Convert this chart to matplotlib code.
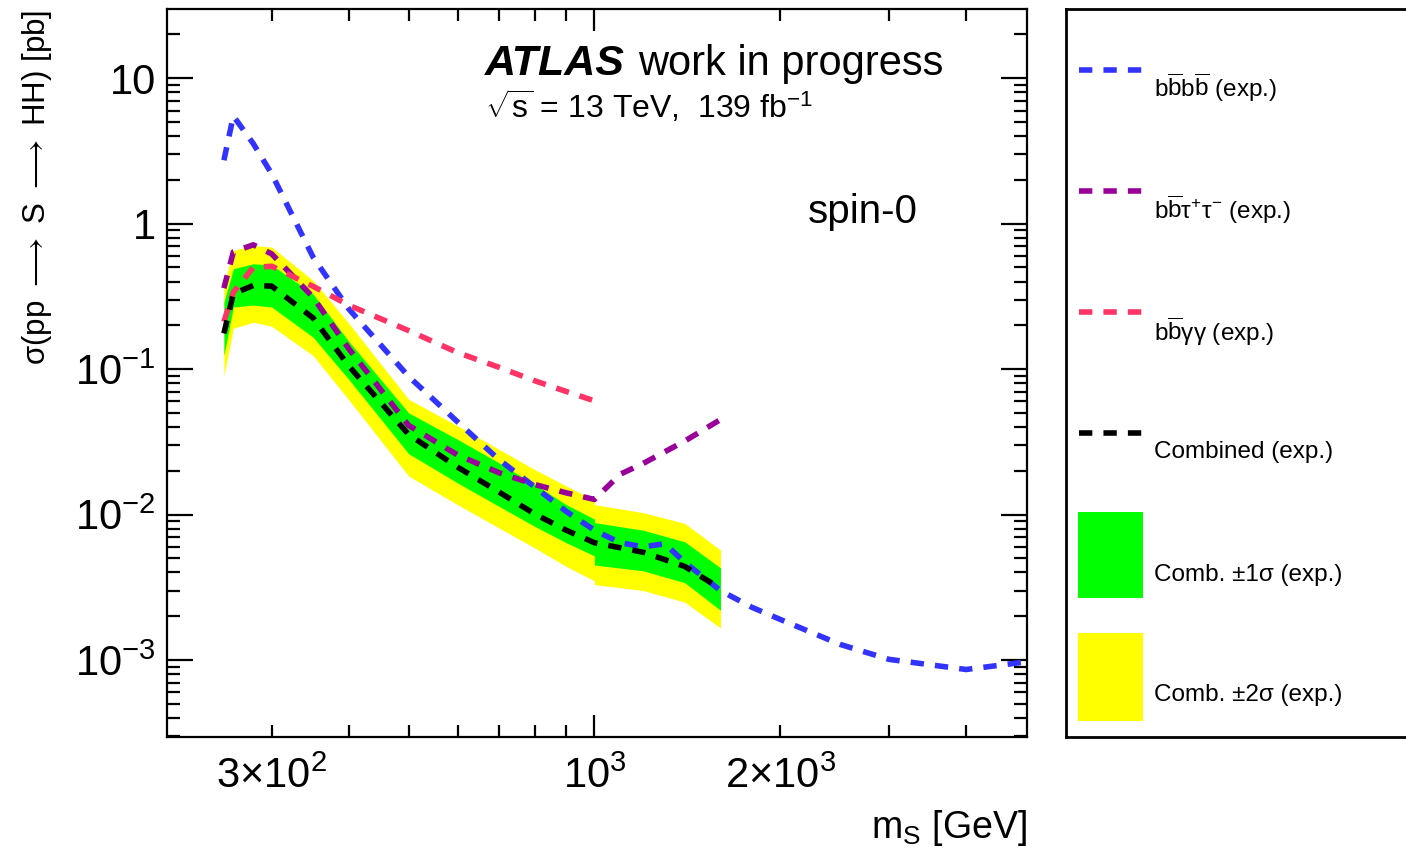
import matplotlib
matplotlib.use('Agg')
import matplotlib.pyplot as plt
from matplotlib.patches import Rectangle
from matplotlib.ticker import NullFormatter

# expected limits, spin-0 resonance, sigma(pp -> S -> HH) [pb]
m_band = [251, 260, 280, 300, 350, 400, 500, 600, 700, 800, 900, 1000, 1000, 1200, 1400, 1600]
comb_exp = [0.176, 0.33, 0.376, 0.372, 0.225, 0.105, 0.0355, 0.0212, 0.0143, 0.0101, 0.0078,
            0.0064, 0.0064, 0.0055, 0.0044, 0.0031]
comb_p1 = [0.288, 0.49, 0.53, 0.52, 0.329, 0.155, 0.050, 0.0329, 0.0227, 0.0161, 0.0117,
           0.0093, 0.0088, 0.0078, 0.0065, 0.0043]
comb_m1 = [0.124, 0.267, 0.276, 0.267, 0.166, 0.085, 0.0262, 0.0165, 0.0114, 0.0083, 0.0064,
           0.0052, 0.0045, 0.0041, 0.0034, 0.0022]
comb_p2 = [0.385, 0.655, 0.708, 0.69, 0.407, 0.206, 0.062, 0.0407, 0.0281, 0.0204, 0.0157,
           0.0126, 0.0117, 0.0103, 0.0087, 0.0057]
comb_m2 = [0.090, 0.191, 0.21, 0.197, 0.124, 0.0615, 0.0184, 0.0117, 0.0081, 0.0059, 0.0044,
           0.0035, 0.0033, 0.0030, 0.0025, 0.00166]

m_4b = [251, 260, 280, 300, 350, 400, 500, 600, 700, 800, 900, 1000, 1100, 1200, 1300, 1400,
        1600, 1800, 2000, 2500, 3000, 4000, 5000]
xs_4b = [2.73, 5.5, 3.56, 2.2, 0.59, 0.259, 0.089, 0.0434, 0.0239, 0.0155, 0.0105, 0.0078,
         0.0064, 0.0060, 0.0063, 0.0047, 0.0030, 0.0023, 0.0019, 0.00128, 0.00101, 0.00086, 0.00097]

m_tt = [251, 260, 280, 300, 350, 400, 500, 600, 700, 800, 900, 1000, 1100, 1200, 1400, 1600]
xs_tt = [0.36, 0.64, 0.716, 0.62, 0.312, 0.138, 0.041, 0.0257, 0.0194, 0.0161, 0.0141, 0.0127,
         0.0189, 0.0225, 0.032, 0.045]

m_yy = [251, 260, 280, 300, 350, 400, 500, 600, 700, 800, 900, 1000]
xs_yy = [0.212, 0.338, 0.50, 0.51, 0.371, 0.275, 0.184, 0.130, 0.103, 0.0832, 0.0702, 0.0605]

x_minor = [300, 400, 500, 600, 700, 800, 900, 2000, 3000, 4000]
x_minor_labels = [r'$3{\times}10^{2}$', '', '', '', '', '', '', r'$2{\times}10^{3}$', '', '']
y_major = [1e-3, 1e-2, 1e-1, 1, 10]
y_major_labels = [r'$10^{-3}$', r'$10^{-2}$', r'$10^{-1}$', '1', '10']

plt.rcParams['font.family'] = ['Liberation Sans', 'DejaVu Sans']
plt.rcParams['mathtext.fontset'] = 'custom'
plt.rcParams['mathtext.rm'] = 'Liberation Sans'
plt.rcParams['mathtext.it'] = 'Liberation Sans:italic'
plt.rcParams['mathtext.bf'] = 'Liberation Sans:bold'
plt.rcParams['mathtext.sf'] = 'Liberation Sans'

fig = plt.figure(figsize=(14.06, 8.49), dpi=100)
ax = fig.add_axes([167 / 1406, 1 - 737.3 / 849, 860 / 1406, 728 / 849])

c_blue, c_purple, c_pink = '#3333ff', '#990099', '#ff3366'
dash = (2.4, 2.0)
lw = 4

ax.fill_between(m_band, comb_m2, comb_p2, color='#ffff00', lw=0)
ax.fill_between(m_band, comb_m1, comb_p1, color='#00ff00', lw=0)
ax.plot(m_4b, xs_4b, color=c_blue, lw=lw, dashes=dash)
ax.plot(m_tt, xs_tt, color=c_purple, lw=lw, dashes=dash)
ax.plot(m_yy, xs_yy, color=c_pink, lw=lw, dashes=dash)
ax.plot(m_band, comb_exp, color='black', lw=lw, dashes=dash)

ax.set_xscale('log')
ax.set_yscale('log')
ax.set_xlim(203, 5020)
ax.set_ylim(2.94e-4, 29.8)

ax.set_xticks([1000], labels=[r'$10^{3}$'])
ax.set_xticks(x_minor, labels=x_minor_labels, minor=True)
ax.set_yticks(y_major, labels=y_major_labels)
ax.yaxis.set_minor_formatter(NullFormatter())

ax.tick_params(axis='both', which='both', direction='in', top=True, right=True, width=1.6,
               labelsize=30)
ax.tick_params(axis='x', which='major', length=15.8, pad=14)
ax.tick_params(axis='x', which='minor', length=8.6, pad=14)
ax.tick_params(axis='y', which='major', length=18.7, pad=8)
ax.tick_params(axis='y', which='minor', length=9.4)
for s in ax.spines.values():
    s.set_linewidth(1.6)

ax.set_xlabel(r'm$_\mathrm{S}$ [GeV]', fontsize=27, loc='right', labelpad=8)
ax.set_ylabel(r'σ(pp $\longrightarrow$ S $\longrightarrow$ HH) [pb]', fontsize=22.5, loc='top',
              labelpad=15)

ax.text(0.370, 0.910, 'ATLAS', transform=ax.transAxes, fontsize=31, fontweight='bold',
        fontstyle='italic', va='baseline')
ax.text(0.548, 0.910, 'work in progress', transform=ax.transAxes, fontsize=30, va='baseline')
ax.text(0.370, 0.851, r'$\sqrt{\mathrm{s}}$ = 13 TeV,  139 fb$^{-1}$', transform=ax.transAxes,
        fontsize=23, va='baseline')
ax.text(0.745, 0.7065, 'spin-0', transform=ax.transAxes, fontsize=29, va='baseline')

# legend panel on the right
lax = fig.add_axes([1066 / 1406, 1 - 737.3 / 849, 344 / 1406, 728.3 / 849])
lax.set_xlim(0, 1)
lax.set_ylim(0, 1)
lax.set_xticks([])
lax.set_yticks([])
for s in lax.spines.values():
    s.set_linewidth(2)

bb = r'\mathrm{b}\overline{\mathrm{b}}'
line_entries = [
    (c_blue, 0.916, 0.892, '$' + bb + bb + '$ (exp.)'),
    (c_purple, 0.750, 0.724, '$' + bb + r'\mathrm{τ^{+}τ^{-}}$ (exp.)'),
    (c_pink, 0.584, 0.557, '$' + bb + r'\mathrm{γγ}$ (exp.)'),
    ('black', 0.418, 0.392, 'Combined (exp.)'),
]
for col, yl, yt, lab in line_entries:
    lax.plot([0.038, 0.221], [yl, yl], color=col, lw=lw, dashes=dash)
    lax.text(0.256, yt, lab, fontsize=17.5, va='center')

lax.add_patch(Rectangle((0.035, 0.191), 0.189, 0.118, color='#00ff00', lw=0))
lax.text(0.256, 0.223, 'Comb. ±1σ (exp.)', fontsize=17.5, va='center')
lax.add_patch(Rectangle((0.035, 0.022), 0.189, 0.121, color='#ffff00', lw=0))
lax.text(0.256, 0.058, 'Comb. ±2σ (exp.)', fontsize=17.5, va='center')

fig.savefig('out.png', dpi=100)
